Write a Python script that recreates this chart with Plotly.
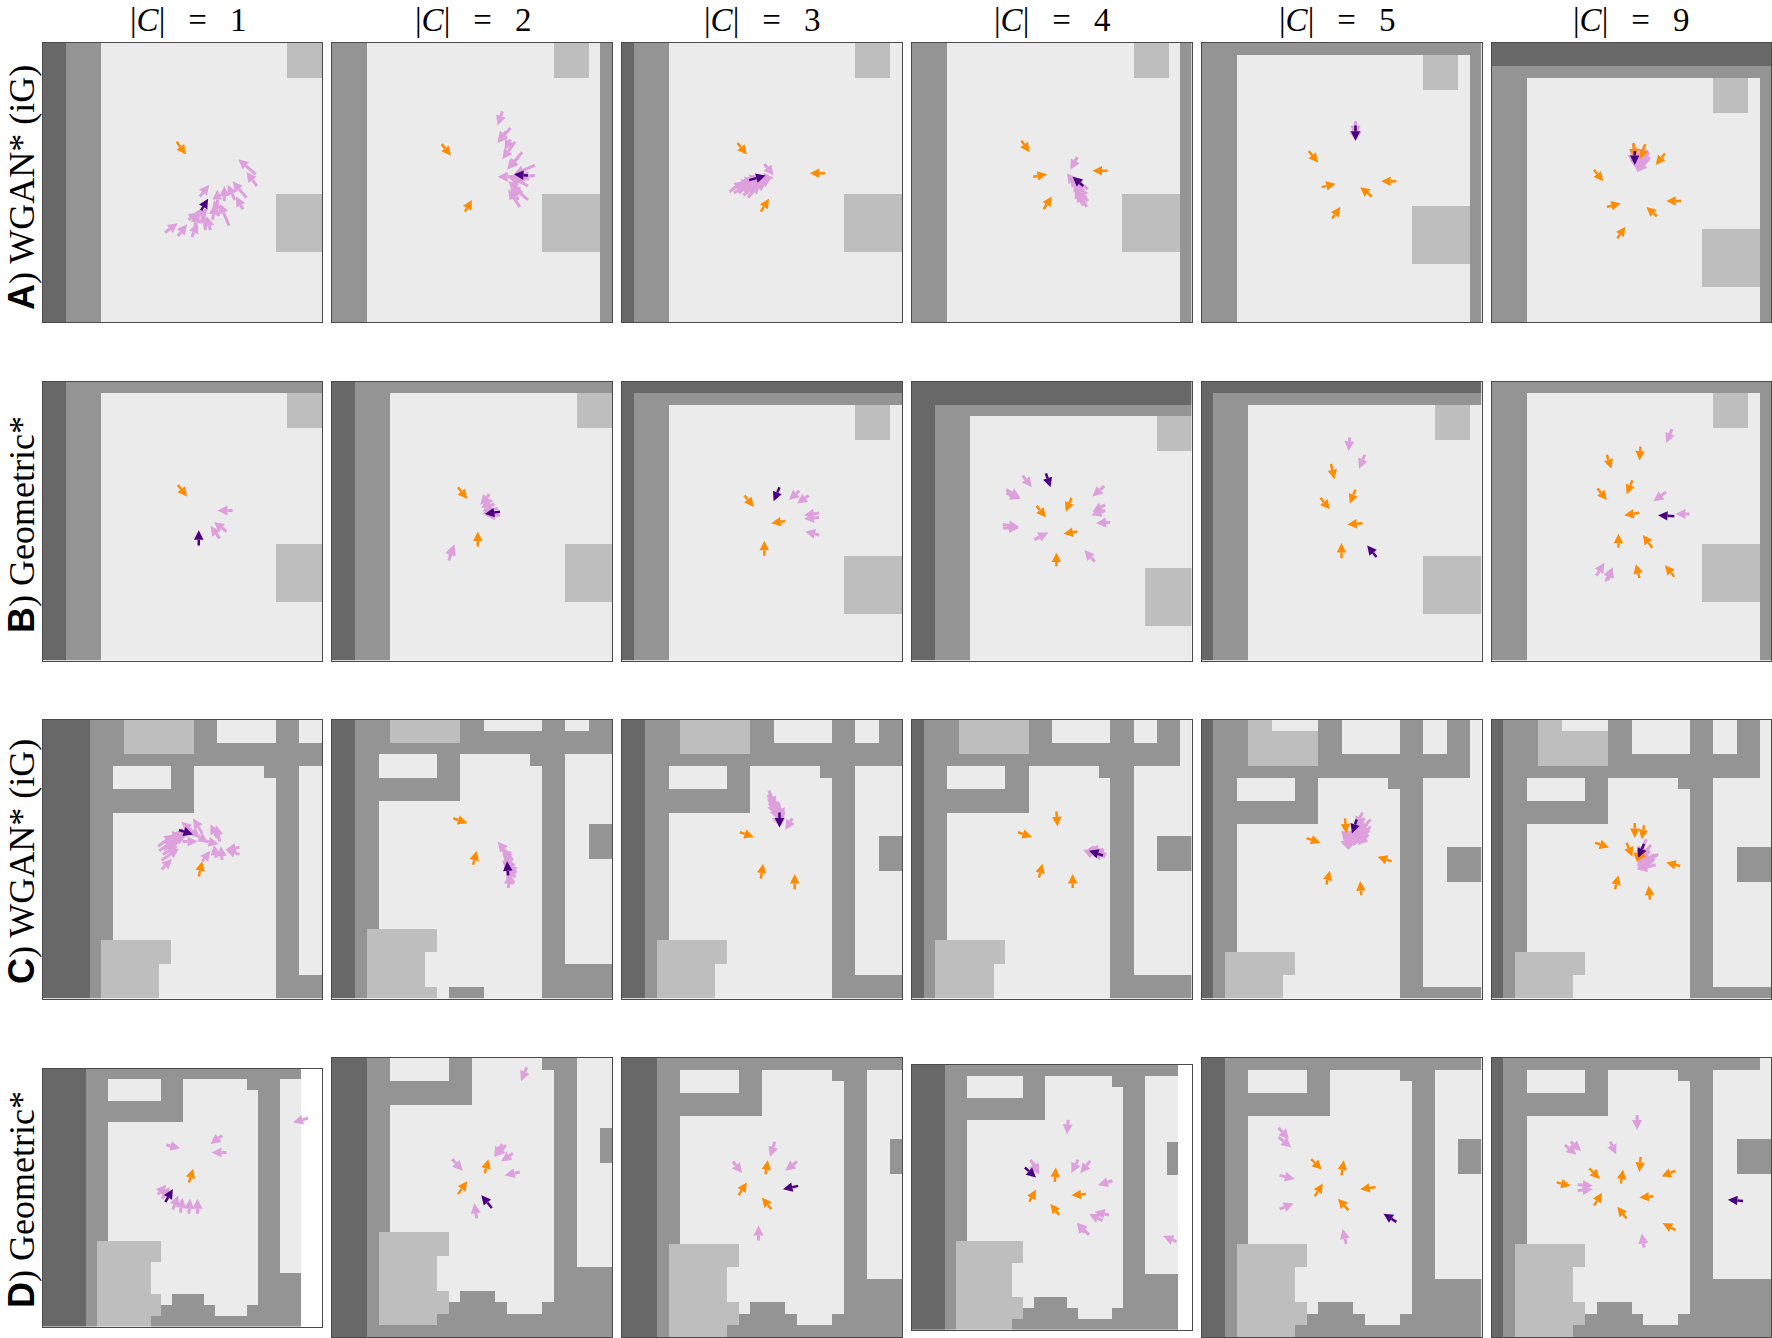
import numpy as np
import plotly.graph_objects as go

# map cells: . free, # wall, D dark wall, L light block
free_a = "DD###....................#"
scene_a = (["D" * 26] * 2 + ["DD" + "#" * 24]
           + ["DD###................LLL.#"] * 3
           + [free_a] * 10
           + ["DD###...............LLLLL#"] * 5
           + [free_a] * 6)

scene_c = [
    "DDDD###LL....##.....##..##.",
    "DDDD###LLLLLL##.....##..##.",
    "DDDD###LLLLLL##.....##..##.",
    "DDDD###LLLLLL#############.",
    "DDDD######################.",
    "DDDD##.....##......###.....",
    "DDDD##.....##.......##.....",
    "DDDD#########.......##.....",
    "DDDD#########.......##.....",
    "DDDD##..............##.....",
    "DDDD##..............##.....",
    "DDDD##..............##..###",
    "DDDD##..............##..###",
    "DDDD##..............##..###",
    "DDDD##..............##.....",
    "DDDD##..............##.....",
    "DDDD##..............##.....",
    "DDDD##..............##.....",
    "DDDD##..............##.....",
    "DDDD##..............##.....",
    "DDDD#LLLLLL.........##.....",
    "DDDD#LLLLLL.........##.....",
    "DDDD#LLLLL..........##.....",
    "DDDD#LLLLL..........#######",
    "DDDD#LLLLL..........#######",
    "DDDD#LLLLLL.###.....#######",
]

scene_d = [
    "DDDD######################.",
    "DDDD##.....##......###.....",
    "DDDD##.....##.......##.....",
    "DDDD#########.......##.....",
    "DDDD#########.......##.....",
    "DDDD##..............##.....",
    "DDDD##..............##.....",
    "DDDD##..............##..###",
    "DDDD##..............##..###",
    "DDDD##..............##..###",
    "DDDD##..............##.....",
    "DDDD##..............##.....",
    "DDDD##..............##.....",
    "DDDD##..............##.....",
    "DDDD##..............##.....",
    "DDDD##..............##.....",
    "DDDD#LLLLLL.........##.....",
    "DDDD#LLLLLL.........##.....",
    "DDDD#LLLLL..........##.....",
    "DDDD#LLLLL..........#######",
    "DDDD#LLLLL..........#######",
    "DDDD#LLLLLL.###.....#######",
    "DDDD#LLLLLL#####...########",
    "DDDD#LLLLL#################",
    "DDDD#######################",
]

# (col, row) of each panel's first cell in its scene
windows_a = [(0, 3), (2, 3), (1, 3), (2, 3), (2, 2), (2, 0)]
windows_b = [(0, 2), (0, 2), (1, 1), (0, 0), (1, 1), (2, 2)]
windows_c = [(0, 1), (2, 2), (2, 1), (3, 1), (3, 0), (3, 0)]
windows_d = [(0, 0), (1, 1), (1, 0), (1, 0), (2, 0), (3, 0)]

col_titles = ["1", "2", "3", "4", "5", "9"]
row_letters = ["A", "B", "C", "D"]
row_names = ["WGAN* (iG)", "Geometric*", "WGAN* (iG)", "Geometric*"]

# arrows are (tail x, tail y, tip x, tip y) in map cells of the panel
a1_orange = [(11.5, 8.5, 12.3, 9.6)]
a1_purple = [(13.6, 14.4, 14.2, 13.4)]
a1_pink = [(18.3, 11.3, 16.8, 10.0), (18.4, 12.3, 17.5, 11.1), (17.5, 13.3, 16.3, 11.9), (17.2, 14.3, 16.6, 13.2),
           (16.5, 13.5, 15.9, 12.2), (15.6, 13.6, 15.6, 12.3), (16.0, 15.7, 15.2, 13.8), (15.0, 14.2, 15.0, 12.6),
           (15.1, 14.9, 14.7, 13.5), (13.5, 13.2, 14.3, 12.2), (14.6, 15.2, 14.8, 13.9), (14.0, 16.1, 13.7, 14.6),
           (13.5, 14.9, 14.2, 14.2), (13.0, 16.1, 13.3, 14.6), (12.8, 16.7, 13.3, 15.5), (11.6, 16.6, 12.4, 15.6),
           (10.5, 16.3, 11.6, 15.5), (13.0, 15.2, 13.5, 14.3), (14.4, 16.1, 14.1, 14.9), (12.5, 15.2, 13.4, 14.6)]

a2_orange = [(9.4, 8.7, 10.2, 9.7), (11.4, 14.5, 12.0, 13.5)]
a2_purple = [(16.8, 11.4, 15.6, 11.3)]
a2_pink = [(14.6, 5.9, 14.2, 7.1), (15.3, 7.3, 14.2, 8.6), (14.9, 7.6, 14.2, 8.5), (15.7, 8.5, 14.6, 10.0),
           (15.3, 8.3, 14.8, 9.2), (16.3, 9.4, 15.0, 10.9), (16.0, 9.8, 15.1, 10.8), (17.4, 10.5, 15.6, 11.3),
           (17.4, 11.4, 16.0, 11.5), (15.6, 11.5, 14.2, 11.5), (16.8, 12.3, 15.3, 11.5), (16.8, 13.5, 15.3, 12.2),
           (16.1, 14.1, 15.1, 12.6), (16.3, 12.9, 15.1, 11.9), (16.0, 13.5, 15.3, 12.5), (16.4, 12.0, 15.1, 11.5),
           (16.6, 11.8, 15.2, 11.4)]

a3_orange = [(9.9, 8.6, 10.7, 9.6), (17.4, 11.2, 16.1, 11.2), (11.9, 14.5, 12.6, 13.4)]
a3_purple = [(10.9, 11.8, 12.3, 11.4)]
a3_pink = [(12.2, 10.4, 13.0, 11.4), (11.3, 11.6, 13.0, 11.6), (10.3, 11.9, 11.8, 11.5), (9.5, 12.5, 11.1, 11.8),
           (9.2, 12.8, 10.5, 11.9), (10.0, 12.9, 11.3, 11.9), (10.8, 13.3, 11.8, 12.1), (10.5, 12.8, 12.3, 11.8),
           (11.3, 12.5, 12.8, 11.6), (10.1, 12.3, 11.9, 11.6), (9.6, 12.9, 11.0, 12.0), (10.4, 13.1, 11.6, 12.2),
           (9.9, 12.2, 11.4, 11.6), (10.7, 12.3, 12.2, 11.6), (11.0, 12.9, 12.4, 11.9), (10.6, 11.9, 12.1, 11.6)]

a4_orange = [(9.4, 8.4, 10.1, 9.4), (16.8, 11.0, 15.5, 11.0), (10.4, 11.5, 11.6, 11.3), (11.3, 14.3, 12.0, 13.2)]
a4_purple = [(14.7, 12.3, 13.8, 11.5)]
a4_pink = [(14.2, 9.8, 13.6, 10.9), (14.0, 12.2, 13.3, 11.2), (14.5, 12.9, 13.6, 11.5), (14.8, 13.5, 14.0, 12.1),
           (15.0, 14.1, 14.3, 12.6), (15.1, 12.6, 13.8, 11.5), (14.6, 13.8, 14.0, 12.5), (14.4, 13.0, 13.9, 11.9),
           (14.9, 13.0, 14.0, 11.9), (15.1, 13.6, 14.3, 12.4), (14.3, 12.3, 13.5, 11.3), (14.7, 14.0, 14.2, 12.8)]

a5_orange = [(9.2, 9.3, 10.0, 10.3), (10.3, 12.4, 11.5, 12.1), (16.7, 11.9, 15.4, 11.9), (14.6, 13.2, 13.6, 12.4),
             (11.2, 15.1, 11.9, 14.1)]
a5_purple = [(13.2, 7.1, 13.2, 8.4)]
a5_pink = [(13.2, 6.7, 13.2, 8.0), (13.0, 7.1, 13.2, 8.4), (13.4, 7.1, 13.2, 8.4)]

a6_orange = [(8.8, 10.9, 9.6, 11.9), (9.9, 14.1, 11.1, 13.8), (16.3, 13.6, 15.0, 13.6), (14.2, 14.9, 13.3, 14.1),
             (10.8, 16.8, 11.5, 15.8), (14.9, 9.5, 14.1, 10.5), (12.2, 8.6, 12.3, 9.9), (13.2, 8.7, 12.8, 10.0)]
a6_purple = [(12.3, 9.3, 12.3, 10.5)]
a6_pink = [(12.2, 8.7, 12.3, 10.0), (13.1, 8.9, 12.6, 10.3), (13.4, 9.2, 12.6, 10.6), (13.6, 9.8, 12.5, 11.1),
           (12.2, 9.5, 12.4, 10.8), (12.8, 9.6, 12.5, 11.1), (12.0, 9.2, 12.3, 10.4), (13.0, 9.4, 12.5, 10.7),
           (13.3, 9.6, 12.6, 10.9), (12.5, 9.2, 12.4, 10.5), (13.5, 9.4, 12.8, 10.7)]

b1_orange = [(11.6, 8.9, 12.4, 9.9)]
b1_purple = [(13.4, 14.1, 13.4, 12.8)]
b1_pink = [(16.3, 11.1, 15.0, 11.1), (15.8, 12.9, 14.7, 12.1), (15.2, 13.5, 14.4, 12.4)]

b2_orange = [(10.8, 9.1, 11.6, 10.1), (12.5, 14.2, 12.5, 12.9)]
b2_purple = [(14.4, 11.2, 13.1, 11.4)]
b2_pink = [(13.5, 9.7, 12.7, 10.6), (13.7, 10.2, 12.8, 10.9), (13.9, 10.5, 12.9, 11.2), (14.2, 10.9, 12.9, 11.4),
           (14.4, 11.5, 13.1, 11.5), (10.0, 15.4, 10.5, 14.0), (10.1, 15.0, 10.4, 14.1)]

b3_orange = [(10.5, 9.8, 11.3, 10.8), (14.0, 12.0, 12.8, 12.2), (12.2, 15.0, 12.2, 13.7)]
b3_purple = [(13.5, 9.1, 13.0, 10.3)]
b3_pink = [(15.2, 9.4, 14.3, 10.2), (16.0, 9.8, 15.0, 10.5), (16.9, 11.3, 15.6, 11.5), (16.9, 11.7, 15.6, 11.8),
           (16.9, 13.2, 15.7, 12.9)]

b4_orange = [(13.7, 10.0, 13.2, 11.2), (10.7, 10.7, 11.5, 11.7), (14.2, 12.9, 13.0, 13.1), (12.4, 15.9, 12.4, 14.7)]
b4_purple = [(11.5, 7.9, 11.9, 9.1)]
b4_pink = [(9.5, 8.1, 10.3, 9.1), (8.1, 9.3, 9.3, 10.0), (8.1, 9.6, 9.3, 10.1), (16.5, 9.0, 15.5, 9.9),
           (16.6, 10.6, 15.5, 11.2), (16.6, 11.1, 15.4, 11.5), (17.0, 12.1, 15.8, 12.2), (7.8, 12.3, 9.2, 12.5),
           (7.8, 12.6, 9.2, 12.6), (10.5, 13.6, 11.7, 13.0), (15.7, 15.5, 14.8, 14.5)]

b5_orange = [(11.1, 7.1, 11.4, 8.4), (13.2, 9.3, 12.7, 10.5), (10.2, 10.0, 11.0, 11.0), (13.8, 12.2, 12.5, 12.3),
             (12.0, 15.2, 12.0, 13.9)]
b5_purple = [(15.0, 15.1, 14.2, 14.1)]
b5_pink = [(12.7, 4.8, 12.6, 6.0), (14.0, 6.3, 13.5, 7.5)]

b6_orange = [(12.8, 5.6, 12.7, 6.8), (9.9, 6.3, 10.3, 7.5), (12.1, 8.5, 11.6, 9.7), (9.1, 9.2, 9.9, 10.2),
             (12.7, 11.3, 11.4, 11.5), (10.9, 14.3, 10.9, 13.1), (13.8, 14.3, 13.0, 13.2), (12.7, 16.9, 12.4, 15.7),
             (15.7, 16.8, 14.9, 15.8)]
b6_purple = [(15.7, 11.6, 14.3, 11.5)]
b6_pink = [(15.5, 4.1, 15.0, 5.3), (15.0, 9.5, 13.9, 10.3), (17.0, 11.4, 15.8, 11.4), (9.0, 16.7, 9.7, 15.6),
           (9.8, 17.2, 10.4, 16.0), (10.0, 17.1, 10.4, 16.0)]

c1_orange = [(13.4, 13.5, 13.7, 12.2)]
c1_purple = [(11.7, 9.5, 12.9, 9.9)]
c1_pink = [(13.0, 9.8, 11.9, 8.8), (13.7, 9.8, 12.9, 8.5), (15.0, 10.2, 14.4, 9.0), (16.9, 11.0, 15.7, 11.2),
           (16.9, 11.6, 15.7, 11.2), (15.4, 12.1, 15.3, 10.9), (14.9, 11.9, 14.7, 10.8), (13.7, 12.2, 14.4, 11.3),
           (10.2, 12.9, 11.1, 12.0), (10.2, 12.1, 11.7, 11.1), (10.0, 11.3, 11.3, 10.3), (9.9, 10.9, 11.3, 9.9),
           (10.5, 10.2, 12.0, 9.8), (12.0, 10.5, 13.3, 10.5), (13.7, 10.4, 15.1, 10.7), (15.2, 10.5, 14.9, 9.1),
           (13.3, 10.0, 14.2, 10.6), (12.3, 9.1, 13.5, 10.2), (10.4, 11.2, 11.6, 10.6), (11.0, 10.6, 12.3, 10.0),
           (10.6, 10.8, 12.0, 10.2), (11.5, 9.7, 12.7, 9.9), (10.3, 11.6, 11.6, 10.9)]

c2_orange = [(10.4, 8.5, 11.6, 8.9), (12.1, 12.5, 12.4, 11.3)]
c2_purple = [(15.1, 13.4, 15.0, 12.2)]
c2_pink = [(15.1, 11.6, 14.2, 10.5), (15.5, 12.1, 14.5, 11.1), (15.6, 12.6, 14.6, 11.5), (15.6, 13.2, 14.6, 12.1),
           (15.8, 13.2, 15.0, 12.5), (15.6, 14.1, 14.9, 12.8), (15.1, 14.5, 15.3, 13.3), (15.7, 13.6, 15.1, 12.6),
           (15.3, 12.0, 14.6, 11.2), (15.5, 12.9, 14.9, 12.0)]

c3_orange = [(10.1, 9.7, 11.3, 10.1), (11.9, 13.7, 12.1, 12.4), (14.8, 14.6, 14.8, 13.3)]
c3_purple = [(13.5, 8.0, 13.5, 9.3)]
c3_pink = [(14.6, 8.5, 14.0, 9.5), (12.6, 6.1, 13.1, 7.5), (12.5, 6.5, 13.3, 7.8), (12.9, 6.8, 13.6, 8.1),
           (12.8, 7.2, 13.4, 8.6), (13.3, 7.1, 13.9, 8.5), (13.1, 7.8, 13.5, 9.2), (13.6, 7.9, 13.5, 9.3),
           (12.7, 6.6, 13.3, 8.0), (13.1, 7.3, 13.6, 8.7), (12.6, 6.9, 13.2, 8.2), (13.5, 7.5, 13.7, 8.9)]

c4_orange = [(9.1, 9.7, 10.3, 10.1), (12.4, 7.9, 12.5, 9.2), (10.9, 13.6, 11.2, 12.4), (13.8, 14.5, 13.8, 13.3)]
c4_purple = [(16.4, 11.7, 15.2, 11.3)]
c4_pink = [(16.7, 11.6, 15.5, 11.2), (16.0, 11.8, 14.7, 11.2), (16.5, 11.3, 15.1, 11.1), (16.2, 11.5, 15.0, 11.3),
           (16.6, 11.8, 15.4, 11.5), (15.8, 11.2, 14.8, 11.4)]

c5_orange = [(12.3, 8.5, 12.4, 9.8), (9.0, 10.2, 10.2, 10.6), (16.3, 12.2, 15.1, 11.8), (10.7, 14.2, 11.0, 13.0),
             (13.7, 15.1, 13.6, 13.9)]
c5_purple = [(13.3, 8.6, 12.9, 9.8)]
c5_pink = [(12.1, 9.6, 12.6, 11.2), (12.4, 9.1, 12.6, 10.5), (13.0, 9.8, 12.6, 11.2), (13.8, 8.0, 13.2, 9.2),
           (14.0, 8.5, 13.0, 9.6), (14.5, 8.6, 13.4, 9.8), (14.5, 9.2, 13.2, 10.5), (14.3, 9.9, 13.4, 10.8),
           (13.5, 9.2, 12.9, 10.5), (12.2, 10.0, 12.6, 11.2), (12.8, 9.6, 12.6, 10.9), (13.9, 8.9, 13.1, 10.0),
           (14.2, 9.0, 13.2, 10.2), (14.4, 9.5, 13.3, 10.6), (13.7, 9.7, 13.0, 10.9), (14.1, 9.4, 13.3, 10.4)]

c6_orange = [(12.3, 8.9, 12.3, 10.2), (13.1, 9.1, 12.9, 10.3), (11.6, 10.6, 12.1, 11.8), (8.9, 10.6, 10.1, 11.0),
             (16.2, 12.6, 15.0, 12.3), (10.6, 14.6, 10.9, 13.4), (13.6, 15.5, 13.5, 14.3), (12.6, 11.2, 12.5, 12.3),
             (13.2, 11.2, 12.5, 12.2)]
c6_purple = [(13.1, 10.7, 12.6, 11.9)]
c6_pink = [(13.3, 10.3, 12.6, 11.8), (13.7, 10.8, 12.6, 12.1), (14.3, 11.6, 12.8, 12.5), (14.1, 12.5, 12.5, 12.9),
           (13.6, 11.3, 12.5, 12.6), (13.9, 12.1, 12.5, 12.8), (13.3, 11.8, 12.5, 12.5), (13.5, 11.1, 12.6, 12.1),
           (14.0, 11.6, 12.6, 12.4), (14.0, 12.0, 12.6, 12.7), (13.4, 11.6, 12.6, 12.6), (13.7, 12.3, 12.5, 12.8)]

d1_orange = [(13.6, 10.6, 14.0, 9.3)]
d1_purple = [(11.4, 12.4, 12.1, 11.2)]
d1_pink = [(24.7, 4.6, 23.3, 5.0), (16.7, 6.2, 15.6, 7.0), (17.1, 7.8, 15.7, 7.8), (11.5, 7.1, 12.8, 7.4),
           (10.7, 11.7, 11.5, 10.8), (11.1, 12.1, 11.8, 11.0), (12.1, 13.1, 12.6, 11.8), (12.8, 13.4, 13.0, 12.0),
           (13.6, 13.5, 13.7, 12.1), (14.4, 13.5, 14.4, 12.1)]

d2_orange = [(13.1, 9.9, 13.4, 8.7), (10.8, 11.7, 11.6, 10.6)]
d2_purple = [(13.7, 12.9, 12.8, 11.8)]
d2_pink = [(16.7, 0.8, 16.2, 2.0), (10.3, 8.7, 11.2, 9.7), (14.6, 7.4, 13.9, 8.5), (14.9, 7.5, 14.0, 8.5),
           (15.5, 8.2, 14.5, 8.9), (16.1, 9.8, 14.8, 10.1), (12.4, 13.8, 12.2, 12.5)]

d3_orange = [(12.3, 10.0, 12.5, 8.8), (10.0, 11.8, 10.7, 10.7), (12.8, 13.0, 12.0, 12.0)]
d3_purple = [(15.1, 11.0, 13.8, 11.3)]
d3_pink = [(13.1, 7.2, 12.7, 8.5), (15.0, 8.9, 14.0, 9.7), (9.5, 8.9, 10.3, 9.9), (11.7, 15.7, 11.7, 14.4)]

d4_orange = [(12.9, 10.6, 13.0, 9.3), (10.6, 12.4, 11.2, 11.3), (15.7, 11.7, 14.4, 11.8), (13.3, 13.6, 12.5, 12.6)]
d4_purple = [(10.2, 9.3, 11.2, 10.2)]
d4_pink = [(14.1, 5.0, 14.0, 6.3), (15.0, 8.6, 14.4, 9.8), (16.1, 8.7, 15.2, 9.8), (18.1, 10.5, 16.8, 10.9),
           (10.7, 8.6, 11.4, 9.9), (10.9, 8.8, 11.5, 9.9), (17.8, 13.6, 16.5, 13.3), (17.2, 14.1, 16.0, 13.5),
           (16.0, 15.4, 14.9, 14.3), (15.6, 15.2, 14.9, 14.3), (23.9, 16.0, 22.7, 15.5)]

d5_orange = [(12.0, 10.1, 12.2, 8.8), (9.7, 11.9, 10.4, 10.8), (14.9, 11.1, 13.6, 11.3), (12.6, 13.1, 11.7, 12.1),
             (9.4, 8.7, 10.3, 9.6)]
d5_purple = [(16.7, 14.1, 15.6, 13.4)]
d5_pink = [(6.6, 6.0, 7.5, 7.0), (6.6, 6.8, 7.7, 7.7), (6.7, 10.1, 8.0, 10.4), (6.7, 13.0, 7.9, 12.5),
           (12.4, 16.0, 12.1, 14.7)]

d6_orange = [(8.4, 9.5, 9.3, 10.4), (11.1, 10.8, 11.3, 9.6), (12.8, 8.5, 12.7, 9.8), (15.8, 9.7, 14.6, 10.2),
             (5.6, 10.7, 6.8, 11.0), (8.8, 12.7, 9.5, 11.6), (13.9, 11.9, 12.7, 12.0), (11.6, 13.8, 10.8, 12.8),
             (15.8, 14.8, 14.7, 14.2)]
d6_purple = [(21.6, 12.3, 20.3, 12.2)]
d6_pink = [(12.5, 4.9, 12.5, 6.2), (10.2, 7.2, 10.7, 8.3), (6.8, 7.2, 7.7, 8.0), (6.3, 7.5, 7.3, 8.3),
           (7.4, 10.9, 8.7, 11.0), (7.4, 11.4, 8.7, 11.3), (13.1, 16.3, 12.9, 15.1)]

scenes = [scene_a, scene_a, scene_c, scene_d]
windows = [windows_a, windows_b, windows_c, windows_d]
pink = [[a1_pink, a2_pink, a3_pink, a4_pink, a5_pink, a6_pink],
        [b1_pink, b2_pink, b3_pink, b4_pink, b5_pink, b6_pink],
        [c1_pink, c2_pink, c3_pink, c4_pink, c5_pink, c6_pink],
        [d1_pink, d2_pink, d3_pink, d4_pink, d5_pink, d6_pink]]
orange = [[a1_orange, a2_orange, a3_orange, a4_orange, a5_orange, a6_orange],
          [b1_orange, b2_orange, b3_orange, b4_orange, b5_orange, b6_orange],
          [c1_orange, c2_orange, c3_orange, c4_orange, c5_orange, c6_orange],
          [d1_orange, d2_orange, d3_orange, d4_orange, d5_orange, d6_orange]]
purple = [[a1_purple, a2_purple, a3_purple, a4_purple, a5_purple, a6_purple],
          [b1_purple, b2_purple, b3_purple, b4_purple, b5_purple, b6_purple],
          [c1_purple, c2_purple, c3_purple, c4_purple, c5_purple, c6_purple],
          [d1_purple, d2_purple, d3_purple, d4_purple, d5_purple, d6_purple]]

W, H = 1772, 1338
CELL = {".": 0, "#": 1, "D": 2, "L": 3}
cell_colors = [[0, "#ebebeb"], [1 / 3, "#949494"], [2 / 3, "#686868"], [1, "#bebebe"]]

col_left = [43, 332, 622, 912, 1201.5, 1491.5]
col_right = [322, 612, 902, 1191.5, 1481.5, 1771]
row_top = [43, 381.5, 719.5, 1058]
row_bottom = [322, 660.5, 998.5, 1337]
title_x = [188, 473, 762, 1052, 1337, 1631]
label_y = [188, 525, 862, 1200]


def arrow_trace(arrows, color, width, head, xa, ya):
    xs, ys, sizes = [], [], []
    for x0, y0, x1, y1 in arrows:
        xs += [x0, x1, None]
        ys += [y0, y1, None]
        sizes += [0, head, 0]
    return go.Scatter(x=xs, y=ys, xaxis=xa, yaxis=ya, mode="lines+markers", hoverinfo="skip",
                      line=dict(color=color, width=width),
                      marker=dict(symbol="arrow-up", size=sizes, color=color, opacity=1, angleref="previous",
                                  line=dict(width=0)))


fig = go.Figure()
for r in range(4):
    for c in range(6):
        n = r * 6 + c + 1
        col0, row0 = windows[r][c]
        grid = [[CELL[ch] for ch in line[col0:col0 + 24]] for line in scenes[r][row0:row0 + 24]]
        xa, ya = f"x{n}", f"y{n}"
        fig.add_trace(go.Heatmap(z=grid, x=np.arange(24) + 0.5, y=np.arange(24) + 0.5, xaxis=xa, yaxis=ya,
                                 colorscale=cell_colors, zmin=0, zmax=3, showscale=False, hoverinfo="skip"))
        fig.add_trace(arrow_trace(pink[r][c], "#dda0dd", 3, 10, xa, ya))
        fig.add_trace(arrow_trace(orange[r][c], "#ff8c00", 2.5, 9.5, xa, ya))
        fig.add_trace(arrow_trace(purple[r][c], "#4b0082", 2.5, 9.5, xa, ya))

        top, bottom = row_top[r], row_bottom[r]
        xmax = 24
        # two panels of the last row are squeezed and keep a white strip on the right
        if (r, c) == (3, 0):
            top, bottom, xmax = 1068.7, 1326.7, 26
        if (r, c) == (3, 3):
            top, bottom, xmax = 1064.7, 1330, 25.25
        frame = dict(showline=True, mirror=True, linecolor="#4a4a4a", linewidth=1, ticks="",
                     showticklabels=False, showgrid=False, zeroline=False)
        fig.update_layout({
            f"xaxis{n}": dict(domain=[col_left[c] / W, col_right[c] / W], range=[0, xmax], anchor=ya, **frame),
            f"yaxis{n}": dict(domain=[1 - bottom / H, 1 - top / H], range=[24, 0], anchor=xa, **frame),
        })

serif = "Liberation Serif"
for c, t in enumerate(col_titles):
    fig.add_annotation(x=title_x[c] / W, y=1 - 20 / H, xref="paper", yref="paper", showarrow=False,
                       xanchor="center", yanchor="middle",
                       text=f"|<i>C</i>|\u2002\u2009=\u2002\u2009{t}", font=dict(family=serif, size=33, color="black"))
for r in range(4):
    label = f'<span style="font-family:Liberation Sans;font-weight:bold">{row_letters[r]}</span>) {row_names[r]}'
    fig.add_annotation(x=21 / W, y=1 - label_y[r] / H, xref="paper", yref="paper", showarrow=False,
                       xanchor="center", yanchor="middle",
                       textangle=-90, text=label, font=dict(family=serif, size=36, color="black"))

fig.update_layout(width=W, height=H, margin=dict(l=0, r=0, t=0, b=0), showlegend=False,
                  paper_bgcolor="white", plot_bgcolor="white")
fig.write_html("out.html", post_script="document.body.style.margin='0';", config=dict(displayModeBar=False))
